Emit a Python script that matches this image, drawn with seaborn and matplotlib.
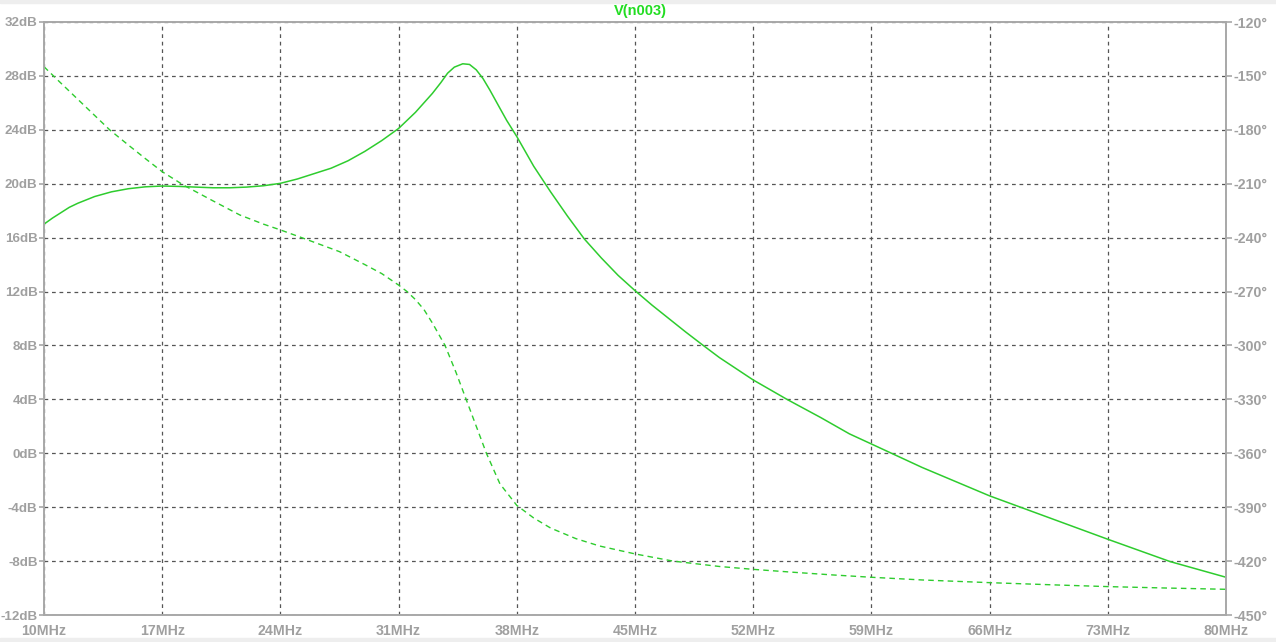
import matplotlib
matplotlib.use("Agg")
import matplotlib.pyplot as plt
import seaborn as sns
import numpy as np

# ---- data ----
mag_freq = [10, 10.5, 11, 11.5, 12, 13, 14, 15, 16, 17, 18, 19, 20, 21, 22, 23, 24, 25, 26,
            27, 28, 29, 30, 31, 32, 33, 33.5, 33.9, 34.3, 34.8, 35.2, 35.6, 36, 36.4, 37,
            37.4, 38, 39, 40, 41, 42, 43, 44, 45, 46, 47, 48, 49, 50, 52, 54, 56, 57.7, 59,
            62, 66, 70, 73, 76.7, 80]
mag_db = [17.0, 17.45, 17.85, 18.25, 18.55, 19.05, 19.4, 19.63, 19.77, 19.83, 19.8, 19.75,
          19.7, 19.7, 19.75, 19.85, 20.03, 20.35, 20.75, 21.15, 21.7, 22.4, 23.2, 24.1, 25.3,
          26.7, 27.5, 28.2, 28.65, 28.9, 28.85, 28.45, 27.8, 26.96, 25.6, 24.7, 23.5, 21.3,
          19.4, 17.6, 15.9, 14.5, 13.2, 12.07, 11.0, 10.0, 9.0, 8.04, 7.1, 5.44, 4.0, 2.65,
          1.44, 0.69, -1.05, -3.16, -5.0, -6.38, -8.04, -9.2]

ph_freq = [10, 11, 12, 13, 13.9, 15, 16, 17, 18.25, 20, 21.6, 23, 24, 25.2, 26.5, 27.5, 29,
           30, 31, 31.5, 32, 32.5, 33, 33.75, 34.4, 35, 35.6, 36.2, 37, 38, 39, 40, 41.5,
           42.9, 45, 47.25, 50, 52, 54.5, 56.7, 59, 62, 66, 70, 73, 76.5, 80]
ph_deg = [-144.9, -154, -163, -172, -180.1, -188.5, -196, -203.3, -210.7, -219.5, -227.4,
          -232.5, -235.7, -239.8, -244.3, -247.8, -255, -260, -266.4, -270, -274.5, -280,
          -287.5, -300, -315, -330, -345, -360, -377, -389, -396, -401.6, -407.5, -411.6,
          -416, -420, -423, -424.6, -426.3, -427.7, -429, -430.5, -432, -433.3, -434.2,
          -435, -435.7]

x_ticks = [10, 17, 24, 31, 38, 45, 52, 59, 66, 73, 80]
x_labels = [f"{v}MHz" for v in x_ticks]
db_ticks = list(range(-12, 33, 4))
db_labels = [f"{v}dB" for v in db_ticks]
ph_ticks = list(range(-450, -119, 30))
ph_labels = [f"{v}\u00b0" for v in ph_ticks]
title = "V(n003)"

# ---- styling ----
sns.set_style("white")
plt.rcParams['font.family'] = ['Liberation Sans', 'DejaVu Sans']

GREEN = '#2ecc2e'
GRID = '#555555'
FRAME = '#a8a8a8'
TXT = '#a0a0a0'

fig = plt.figure(figsize=(12.76, 6.42), dpi=100, facecolor='white')
ax = fig.add_axes([44/1276, 27/642, (1226-44)/1276, (615-22)/642])
ax2 = ax.twinx()

sns.lineplot(x=mag_freq, y=mag_db, ax=ax, color=GREEN, linewidth=1.1, sort=False)
sns.lineplot(x=ph_freq, y=ph_deg, ax=ax2, color=GREEN, linewidth=1.0, sort=False,
             dashes=False)
ax2.lines[0].set_dashes([4, 3])

ax.set_xlim(10, 80)
ax.set_ylim(-12, 32)
ax2.set_ylim(-450, -120)

ax.set_xticks(x_ticks)
ax.set_xticklabels(x_labels)
ax.set_yticks(db_ticks)
ax.set_yticklabels(db_labels)
ax2.set_yticks(ph_ticks)
ax2.set_yticklabels(ph_labels)

ax.grid(True, color=GRID, linestyle=(0, (3, 3)), linewidth=0.9)
ax.set_axisbelow(True)
ax2.grid(False)

for a in (ax, ax2):
    for s in a.spines.values():
        s.set_color(FRAME)
        s.set_linewidth(1.2)
        s.set_visible(True)

ax.tick_params(axis='both', colors=FRAME, labelcolor=TXT, labelsize=9.6,
               length=3.8, width=1.2, direction='out', pad=0.8)
ax.tick_params(axis='x', pad=2.5, labelsize=10.2)
ax2.tick_params(axis='y', colors=FRAME, labelcolor=TXT, labelsize=10.2,
                length=4.5, width=1.2, direction='out', pad=1)
for t in ax.get_xticklabels() + ax.get_yticklabels() + ax2.get_yticklabels():
    t.set_fontweight('bold')

ax.set_xlabel('')
ax.set_ylabel('')
ax2.set_ylabel('')

fig.text(640/1276, 1 - 11/642, title, color='#22dd22', fontsize=10.5, fontweight='bold',
         ha='center', va='center')

# light grey strips at top and bottom of window
fig.patches.append(plt.Rectangle((0, 1 - 3/642), 1, 3/642, transform=fig.transFigure,
                                 color='#eeeeee', zorder=0))
fig.patches.append(plt.Rectangle((0, 0), 1, 4/642, transform=fig.transFigure,
                                 color='#eeeeee', zorder=0))

fig.savefig('out.png', dpi=100, facecolor='white')
